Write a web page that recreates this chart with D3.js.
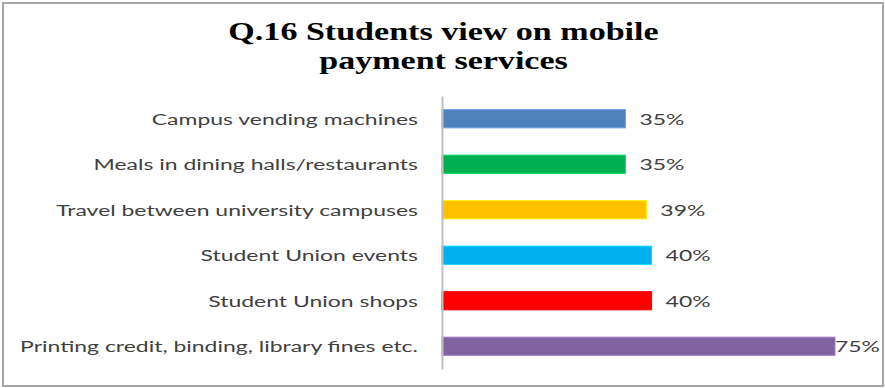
<!DOCTYPE html>
<html>
<head>
<meta charset="utf-8">
<script src="https://cdn.jsdelivr.net/npm/d3@7"></script>
<style>
  html, body { margin: 0; padding: 0; background: #fff; }
  svg { display: block; }
</style>
</head>
<body>
<svg id="chart" width="885" height="388"></svg>
<script>
// Survey question and answer shares
const titleLines = ["Q.16 Students view on mobile", "payment services"];
const categories = [
  "Campus vending machines",
  "Meals in dining halls/restaurants",
  "Travel between university campuses",
  "Student Union events",
  "Student Union shops",
  "Printing credit, binding, library fines etc."
];
const values = [35, 35, 39, 40, 40, 75];
const colors = ["#4F81BD", "#00B050", "#FFC000", "#00B0F0", "#FF0000", "#8064A2"];

const W = 885, H = 388;
const svg = d3.select("#chart");

// outer frame
svg.append("rect")
  .attr("x", 3).attr("y", 3).attr("width", W - 5).attr("height", H - 5)
  .attr("fill", "#fff").attr("stroke", "#a6a6a6").attr("stroke-width", 2);

// horizontal stretch applied to all text
const titleSx = 1.31, labelSx = 1.53;

const x = d3.scaleLinear().domain([0, 75]).range([442, 835]);
const y = d3.scaleBand().domain(categories).range([96, 369])
  .paddingInner(0.6).paddingOuter(0.3);

// title
svg.append("g").selectAll("text").data(titleLines).join("text")
  .attr("transform", (d, i) => `translate(443.5,${40 + i * 29}) scale(${titleSx},1)`)
  .attr("text-anchor", "middle")
  .attr("font-family", "Liberation Serif, Times New Roman, serif")
  .attr("font-weight", "bold")
  .attr("font-size", 26)
  .attr("fill", "#000")
  .text(d => d);

const rows = categories.map((c, i) => ({ c, v: values[i], color: colors[i] }));

// bars
svg.append("g").selectAll("rect").data(rows).join("rect")
  .attr("x", x(0))
  .attr("y", d => y(d.c))
  .attr("width", d => x(d.v) - x(0))
  .attr("height", y.bandwidth())
  .attr("fill", d => d.color)
  .attr("stroke", d => d3.color(d.color).brighter(0.6))
  .attr("stroke-width", 1);

// category axis
const axis = svg.append("g")
  .attr("transform", `translate(${x(0)},0)`)
  .call(d3.axisLeft(y).tickSize(0).tickPadding(0).tickFormat(""));
axis.select(".domain").attr("stroke", "#bfbfbf").attr("stroke-width", 2);

// category labels
svg.append("g").selectAll("text").data(rows).join("text")
  .attr("transform", d => `translate(418,${y(d.c) + y.bandwidth() / 2 + 6}) scale(${labelSx},1)`)
  .attr("text-anchor", "end")
  .attr("font-family", "Lato, Open Sans, sans-serif")
  .attr("font-size", 15)
  .attr("fill", "#404040")
  .text(d => d.c);

// value labels, kept inside the frame
const rightLimit = 880;
svg.append("g").selectAll("text").data(rows).join("text")
  .attr("font-family", "Lato, Open Sans, sans-serif")
  .attr("font-size", 15)
  .attr("fill", "#404040")
  .text(d => d.v + "%")
  .each(function (d) {
    const w = this.getComputedTextLength() * labelSx;
    let tx = x(d.v) + 14;
    if (tx + w > rightLimit) tx = rightLimit - w;
    d3.select(this).attr("transform",
      `translate(${tx},${y(d.c) + y.bandwidth() / 2 + 6}) scale(${labelSx},1)`);
  });
</script>
</body>
</html>
